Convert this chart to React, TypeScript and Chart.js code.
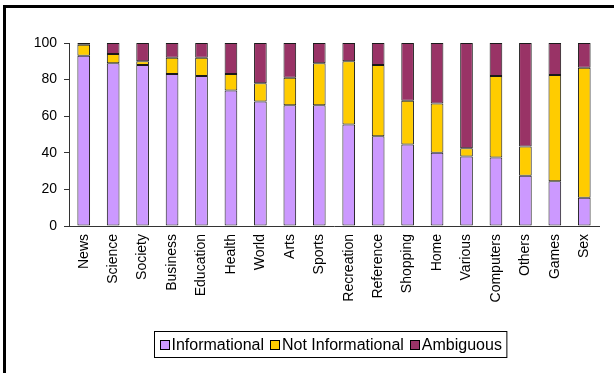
import React, { useEffect, useRef } from "react";
import { Chart, registerables } from "chart.js";

Chart.register(...registerables);

const categories = [
  "News", "Science", "Society", "Business", "Education", "Health", "World", "Arts", "Sports",
  "Recreation", "Reference", "Shopping", "Home", "Various", "Computers", "Others", "Games", "Sex",
];
const informational = [93, 89, 88, 83, 82, 74, 68, 66, 66, 55.5, 49, 44.5, 40, 38, 37.5, 27.5, 24.5, 15.5];
const notInformational = [6, 5, 2, 9, 10, 9, 10, 15, 23, 34.5, 39, 24, 27, 4.5, 44.5, 16, 58, 71];
const ambiguous = [1, 6, 10, 8, 8, 17, 22, 19, 11, 10, 12, 31.5, 33, 57.5, 18, 56.5, 17.5, 13.5];
const yTicks = [0, 20, 40, 60, 80, 100];

const FONT = "'Liberation Sans', Arial, sans-serif";

// Boxed legend centred under the x-axis labels
const boxedLegend = {
  id: "boxedLegend",
  afterDraw(chart: any) {
    const ctx = chart.ctx as CanvasRenderingContext2D;
    const sets = chart.data.datasets;
    ctx.save();
    ctx.font = `16px ${FONT}`;
    const sq = 9;
    const gapText = 3;
    const gapItem = 6;
    const padX = 5;
    const widths = sets.map((d: any) => ctx.measureText(d.label).width);
    let total = padX * 2;
    widths.forEach((w: number, i: number) => {
      total += sq + gapText + w + (i < widths.length - 1 ? gapItem : 0);
    });
    const cx = 330;
    const top = 331;
    const h = 26;
    const left = Math.round(cx - total / 2) + 0.5;
    ctx.strokeStyle = "#000";
    ctx.lineWidth = 1;
    ctx.fillStyle = "#fff";
    ctx.fillRect(left, top + 0.5, total, h);
    ctx.strokeRect(left, top + 0.5, total, h);
    let x = left + padX;
    const midY = top + h / 2 + 0.5;
    sets.forEach((d: any, i: number) => {
      ctx.fillStyle = d.backgroundColor;
      const sy = Math.round(midY - sq / 2) + 0.5;
      ctx.fillRect(Math.round(x) + 0.5, sy, sq, sq);
      ctx.strokeStyle = "#000";
      ctx.strokeRect(Math.round(x) + 0.5, sy, sq, sq);
      x += sq + gapText;
      ctx.fillStyle = "#000";
      ctx.textBaseline = "middle";
      ctx.textAlign = "left";
      ctx.fillText(d.label, x, midY + 1);
      x += widths[i] + gapItem;
    });
    ctx.restore();
  },
};

export default function App() {
  const ref = useRef<HTMLCanvasElement | null>(null);

  useEffect(() => {
    if (!ref.current) return;
    const chart = new Chart(ref.current, {
      type: "bar",
      data: {
        labels: categories,
        datasets: [
          { label: "Informational", data: informational, backgroundColor: "#CC99FF" },
          { label: "Not Informational", data: notInformational, backgroundColor: "#FFCC00" },
          { label: "Ambiguous", data: ambiguous, backgroundColor: "#993366" },
        ].map((d) => ({
          ...d,
          borderColor: "#1a1a1a",
          borderWidth: 1,
          borderSkipped: false,
          barPercentage: 0.43,
          categoryPercentage: 1,
        })),
      },
      options: {
        animation: false,
        responsive: false,
        layout: { padding: { top: 43, left: 0, right: 15, bottom: 0 } },
        plugins: { legend: { display: false }, tooltip: { enabled: false } },
        scales: {
          x: {
            stacked: true,
            grid: { display: false, drawTicks: false },
            border: { color: "#333", width: 1 },
            ticks: {
              autoSkip: false,
              minRotation: 90,
              maxRotation: 90,
              padding: 8,
              color: "#000",
              font: { family: FONT, size: 14 },
            },
            afterFit(scale: any) {
              scale.height = 373 - 226;
            },
          },
          y: {
            stacked: true,
            min: 0,
            max: 100,
            afterBuildTicks(scale: any) {
              scale.ticks = yTicks.map((v) => ({ value: v }));
            },
            grid: { drawOnChartArea: false, drawTicks: true, tickLength: 5, color: "#333" },
            border: { color: "#333", width: 1 },
            ticks: {
              padding: 7,
              color: "#000",
              font: { family: FONT, size: 14 },
            },
            afterFit(scale: any) {
              scale.width = 69;
            },
          },
        },
      },
      plugins: [boxedLegend],
    });
    return () => chart.destroy();
  }, []);

  return (
    <div style={{ position: "fixed", left: 0, top: 0, width: 614, height: 373, background: "#fff", overflow: "hidden" }}>
      <div
        style={{
          position: "absolute",
          left: 3,
          top: 5,
          width: 640,
          height: 400,
          borderLeft: "3px solid #000",
          borderTop: "3px solid #000",
        }}
      />
      <canvas ref={ref} width={614} height={373} style={{ position: "absolute", left: 0, top: 0 }} />
    </div>
  );
}
